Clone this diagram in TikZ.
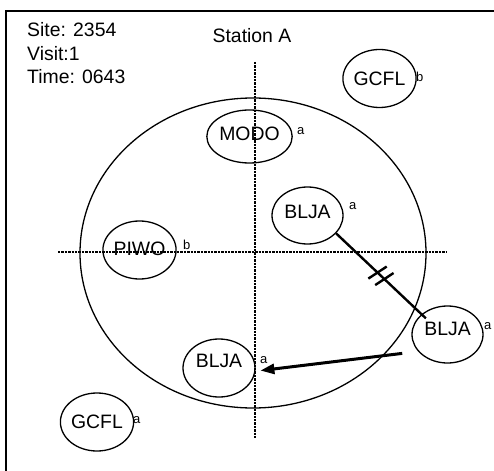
\documentclass[tikz,border=0pt]{standalone}
\usepackage{fontspec}
\setmainfont{Liberation Sans}
\usetikzlibrary{shapes.geometric,arrows.meta,calc}
\begin{document}
\begin{tikzpicture}[x=1bp,y=-1bp,
  bird/.style={ellipse,draw,line width=1.3bp,inner sep=0pt,
    minimum width=71bp,minimum height=58bp,
    font=\fontsize{19.4bp}{23bp}\selectfont},
  lift/.style={text depth=#1},
  tag/.style={inner sep=0pt,anchor=base west,font=\fontsize{13bp}{15bp}\selectfont},
  caption/.style={inner sep=0pt,font=\fontsize{19.4bp}{23bp}\selectfont},
  axisline/.style={line width=2.5bp,dash pattern=on 2.4bp off 1bp},
  move/.style={line width=2.4bp},
]
\useasboundingbox (0,0) rectangle (494,471);

% sheet frame (only its left and top edges fall on the page)
\draw[line width=1.8bp] (6,472) -- (6,11) -- (495,11);

% header
\node[caption,anchor=base west] (site)  at (27,37)   {Site: 2354};
\node[caption,anchor=base west] (visit) at (27,60.5) {Visit:1};
\node[caption,anchor=base west] (time)  at (27,84)   {Time: 0643};
\node[caption,anchor=base] (station) at (252,43) {Station A};

% survey circle and its dotted cross-hairs
\draw[line width=1.3bp] (253,253) ellipse [x radius=173bp, y radius=155bp];
\draw[axisline] (255,62) -- (255,438);
\draw[axisline] (58,252) -- (447,252);

% birds
\node[bird,minimum width=85bp,minimum height=53bp,lift=6bp] (modo) at (249.5,136.5) {MODO};
\node[bird] (gcflT) at (379.5,78.5) {GCFL};
\node[bird,lift=2bp] (piwo) at (139.5,250) {PIWO};
\node[bird,minimum height=57bp,lift=8bp] (bljaA) at (307.5,215.5) {BLJA};
\node[bird,minimum height=57bp,lift=11bp] (bljaB) at (447.5,334.5) {BLJA};
\node[bird,minimum width=72bp,lift=14bp] (bljaC) at (219,368) {BLJA};
\node[bird,minimum width=70bp] (gcflB) at (97,422) {GCFL};

% detection-type marks
\node[tag] (tModo)  at (297,135) {a};
\node[tag] (tGcflT) at (416,82)  {b};
\node[tag] (tPiwo)  at (183,249) {b};
\node[tag] (tBljaA) at (349,210) {a};
\node[tag] (tBljaB) at (484,329) {a};
\node[tag] (tBljaC) at (260,363) {a};
\node[tag] (tGcflB) at (133,423) {a};

% same individual: link with a double bar
\draw[move,shorten >=-6bp] (bljaA.-32) -- (bljaB.142);
\coordinate (k1) at ($(bljaA.-32)!0.485!(bljaB.142)$);
\coordinate (k2) at ($(bljaA.-32)!0.565!(bljaB.142)$);
\draw[move] ($(k1)!11bp!-103.3:(bljaB.142)$) -- ($(k1)!11bp!76.7:(bljaB.142)$);
\draw[move] ($(k2)!11bp!-103.3:(bljaB.142)$) -- ($(k2)!11bp!76.7:(bljaB.142)$);

% movement
\draw[line width=3bp,-{Triangle[length=14bp,width=10bp]},shorten <=16bp,shorten >=5bp]
  (bljaB.210) -- (bljaC.-5);
\end{tikzpicture}
\end{document}
